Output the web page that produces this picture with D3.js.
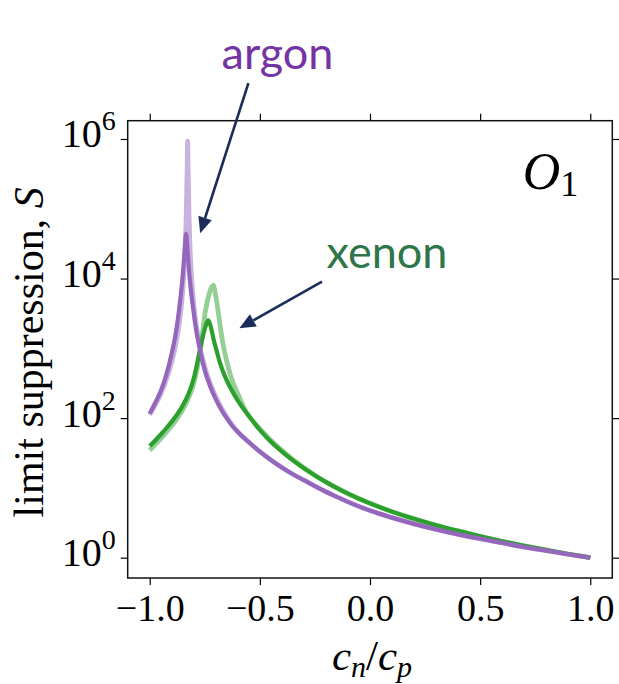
<!DOCTYPE html>
<html>
<head>
<meta charset="utf-8">
<script src="https://cdn.jsdelivr.net/npm/d3@7"></script>
<style>
  body { margin: 0; background: #fff; }
  svg { display: block; }
</style>
</head>
<body>
<svg id="chart" width="619" height="684"></svg>
<script>
// ---- data: limit suppression S versus the coupling ratio c_n/c_p ----
// argon, smeared response
const argonR = [-1.000, -0.975, -0.950, -0.925, -0.900, -0.880, -0.865, -0.850, -0.842, -0.835, -0.828, -0.820, -0.805, -0.790, -0.770, -0.750, -0.725, -0.700, -0.675, -0.650, -0.625, -0.600, -0.575, -0.550, -0.500, -0.450, -0.400, -0.350, -0.300, -0.250, -0.200, -0.150, -0.100, -0.050, 0.000, 0.100, 0.200, 0.300, 0.400, 0.500, 0.600, 0.700, 0.800, 0.900, 1.000];
const argonS = [116, 166, 245, 417, 851, 1780, 3980, 11200, 24000, 43600, 24000, 11200, 4170, 1900, 890, 480, 282, 186, 132, 99, 77, 63.1, 53.1, 45.2, 33.1, 25.1, 19.6, 15.7, 12.9, 10.6, 8.81, 7.45, 6.31, 5.43, 4.73, 3.75, 3.05, 2.54, 2.16, 1.87, 1.63, 1.42, 1.26, 1.12, 1.0];
// argon, sharp response
const argonSharpR = [-1.000, -0.975, -0.950, -0.925, -0.900, -0.880, -0.865, -0.850, -0.840, -0.834, -0.830, -0.828, -0.826, -0.822, -0.816, -0.806, -0.790, -0.770, -0.750, -0.725, -0.700, -0.675, -0.650, -0.625, -0.600, -0.575, -0.550, -0.500, -0.450, -0.400, -0.350, -0.300, -0.250, -0.200, -0.150, -0.100, -0.050, 0.000, 0.100, 0.200, 0.300, 0.400, 0.500, 0.600, 0.700, 0.800, 0.900, 1.000];
const argonSharpS = [112, 153, 222, 351, 638, 1220, 2420, 6830, 23000, 92000, 400000, 930000, 400000, 92000, 23000, 6830, 2290, 980, 543, 312, 202, 141, 104, 80, 63.5, 53.1, 45.2, 33.1, 25.1, 19.6, 15.7, 12.9, 10.6, 8.81, 7.45, 6.31, 5.43, 4.73, 3.75, 3.05, 2.54, 2.16, 1.87, 1.63, 1.42, 1.26, 1.12, 1.0];
// xenon, smeared response
const xenonR = [-1.000, -0.975, -0.950, -0.925, -0.900, -0.875, -0.850, -0.825, -0.800, -0.785, -0.772, -0.755, -0.745, -0.734, -0.722, -0.711, -0.695, -0.681, -0.660, -0.636, -0.600, -0.550, -0.500, -0.450, -0.400, -0.350, -0.300, -0.250, -0.200, -0.150, -0.100, -0.050, 0.000, 0.100, 0.200, 0.300, 0.400, 0.500, 0.600, 0.700, 0.800, 0.900, 1.000];
const xenonS = [39.8, 47.9, 58.2, 71.6, 89.1, 113.5, 151, 219, 372, 603, 955, 1660, 2140, 2510, 2000, 1380, 891, 617, 407, 282, 178, 107, 67.6, 45.7, 33.1, 24.8, 19.1, 15.1, 12.1, 9.91, 8.26, 7.0, 6.01, 4.57, 3.61, 2.92, 2.42, 2.03, 1.72, 1.48, 1.29, 1.13, 1.0];
// xenon, sharp response
const xenonSharpR = [-1.000, -0.975, -0.950, -0.925, -0.900, -0.875, -0.850, -0.825, -0.800, -0.785, -0.772, -0.760, -0.749, -0.738, -0.725, -0.712, -0.700, -0.688, -0.677, -0.665, -0.645, -0.627, -0.600, -0.575, -0.559, -0.525, -0.500, -0.450, -0.400, -0.350, -0.300, -0.250, -0.200, -0.150, -0.100, -0.050, 0.000, 0.100, 0.200, 0.300, 0.400, 0.500, 0.600, 0.700, 0.800, 0.900, 1.000];
const xenonSharpS = [34.7, 41.7, 50.7, 62.4, 77.6, 98.9, 132, 191, 316, 501, 871, 1660, 3160, 4790, 6760, 8040, 5620, 3160, 1780, 1050, 562, 355, 224, 148, 119, 86.1, 70.0, 48.4, 34.7, 25.4, 19.4, 15.2, 12.2, 9.98, 8.3, 7.01, 6.01, 4.57, 3.61, 2.92, 2.42, 2.03, 1.72, 1.48, 1.29, 1.13, 1.0];

// axis ticks
const xTicks = [-1.0, -0.5, 0.0, 0.5, 1.0];
const yTickExp = [0, 2, 4, 6];

// target labels with arrows, positioned in data coordinates
const labelNames = ["argon", "xenon"];
const labelAt = [[-0.42, 1.02e7], [0.077, 14000]];
const arrowTail = [[-0.552, 6.3e6], [-0.218, 9020]];
const arrowTip = [[-0.771, 44600], [-0.593, 1940]];
const labelColors = ["#7434a4", "#2e7649"];

// ---- layout ----
const box = { left: 127.7, right: 612.3, top: 120.7, bottom: 578 };
const svg = d3.select("#chart");

const x = d3.scaleLinear().domain([-1.1, 1.1]).range([box.left, box.right]);
const y = d3.scaleLog().domain([Math.pow(10, -0.291), Math.pow(10, 6.262)]).range([box.bottom, box.top]);

const serif = "'Liberation Serif', 'DejaVu Serif', serif";
const tickFont = 38;

// ---- curves ----
const line = d3.line()
  .x(d => x(d[0]))
  .y(d => y(d[1]))
  .curve(d3.curveMonotoneX);

const series = [
  { r: xenonSharpR, s: xenonSharpS, color: "#2ca02c", opacity: 0.5, width: 4.8 },
  { r: xenonR, s: xenonS, color: "#2ca02c", opacity: 1, width: 4.2 },
  { r: argonSharpR, s: argonSharpS, color: "#9467bd", opacity: 0.5, width: 4.8 },
  { r: argonR, s: argonS, color: "#9467bd", opacity: 1, width: 4.2 }
];

svg.append("defs").append("clipPath").attr("id", "plotclip")
  .append("rect")
  .attr("x", box.left).attr("y", box.top)
  .attr("width", box.right - box.left).attr("height", box.bottom - box.top);

const plot = svg.append("g").attr("clip-path", "url(#plotclip)");
series.forEach(sr => {
  plot.append("path")
    .datum(sr.r.map((r, i) => [r, sr.s[i]]))
    .attr("d", line)
    .attr("fill", "none")
    .attr("stroke", sr.color)
    .attr("stroke-opacity", sr.opacity)
    .attr("stroke-width", sr.width)
    .attr("stroke-linejoin", "round")
    .attr("stroke-linecap", "butt");
});

// ---- axes ----
const fmt = d3.format(".1f");
const gx = svg.append("g")
  .attr("transform", `translate(0,${box.bottom})`)
  .call(d3.axisBottom(x).tickValues(xTicks).tickSize(7).tickSizeOuter(0).tickFormat(fmt));
gx.selectAll("text").attr("font-family", serif).attr("font-size", tickFont).attr("fill", "#000")
  .attr("dy", null).attr("y", 43);

svg.append("g")
  .attr("transform", `translate(0,${box.top})`)
  .call(d3.axisTop(x).tickValues(xTicks).tickSize(7).tickSizeOuter(0).tickFormat(""));

const yVals = yTickExp.map(e => Math.pow(10, e));
const gy = svg.append("g")
  .attr("transform", `translate(${box.left},0)`)
  .call(d3.axisLeft(y).tickValues(yVals).tickSize(7).tickSizeOuter(0).tickFormat(""));
gy.selectAll(".tick").each(function (d, i) {
  const t = d3.select(this).append("text")
    .attr("x", -12).attr("y", 8)
    .attr("text-anchor", "end")
    .attr("font-family", serif).attr("font-size", 40).attr("fill", "#000");
  t.append("tspan").text("10");
  t.append("tspan").attr("dy", -17).attr("font-size", 28).text(yTickExp[i]);
});

svg.append("g")
  .attr("transform", `translate(${box.right},0)`)
  .call(d3.axisRight(y).tickValues(yVals).tickSize(7).tickSizeOuter(0).tickFormat(""));

svg.selectAll(".domain").remove();
svg.selectAll(".tick line").attr("stroke", "#000").attr("stroke-width", 1.2);

// frame
svg.append("rect")
  .attr("x", box.left).attr("y", box.top)
  .attr("width", box.right - box.left).attr("height", box.bottom - box.top)
  .attr("fill", "none").attr("stroke", "#111").attr("stroke-width", 1.5);

// ---- axis titles ----
const xt = svg.append("text")
  .attr("x", (box.left + box.right) / 2 + 2).attr("y", 670)
  .attr("text-anchor", "middle")
  .attr("font-family", serif).attr("font-size", 43).attr("font-style", "italic").attr("fill", "#000");
xt.append("tspan").text("c");
xt.append("tspan").attr("font-size", 30).attr("dy", 7).text("n");
xt.append("tspan").attr("dy", -7).attr("font-style", "normal").text("/");
xt.append("tspan").text("c");
xt.append("tspan").attr("font-size", 30).attr("dy", 7).text("p");

const yt = svg.append("text")
  .attr("transform", `translate(43,${(box.top + box.bottom) / 2 + 3}) rotate(-90)`)
  .attr("text-anchor", "middle")
  .attr("font-family", serif).attr("font-size", 42).attr("fill", "#000");
yt.append("tspan").text("limit suppression, ");
yt.append("tspan").attr("font-style", "italic").text("S");

// operator tag
const op = svg.append("text")
  .attr("x", box.left + 0.815 * (box.right - box.left)).attr("y", 189)
  .attr("font-family", serif).attr("font-size", 52).attr("fill", "#000");
op.append("tspan").attr("font-style", "italic").text("O");
op.append("tspan").attr("font-size", 36).attr("dy", 7).text("1");

// ---- target labels and arrows ----
const navy = "#1b2d58";
labelNames.forEach((name, i) => {
  const [tx, ty] = [x(arrowTail[i][0]), y(arrowTail[i][1])];
  const [hx, hy] = [x(arrowTip[i][0]), y(arrowTip[i][1])];
  const ang = Math.atan2(hy - ty, hx - tx);
  const headLen = 16, headHalf = 7;
  const bx = hx - headLen * Math.cos(ang), by = hy - headLen * Math.sin(ang);
  svg.append("line")
    .attr("x1", tx).attr("y1", ty).attr("x2", bx).attr("y2", by)
    .attr("stroke", navy).attr("stroke-width", 2.6);
  const px = -Math.sin(ang), py = Math.cos(ang);
  svg.append("polygon")
    .attr("points", [[hx, hy], [bx + headHalf * px, by + headHalf * py], [bx - headHalf * px, by - headHalf * py]].map(p => p.join(",")).join(" "))
    .attr("fill", navy);
  svg.append("text")
    .attr("x", x(labelAt[i][0])).attr("y", y(labelAt[i][1]))
    .attr("text-anchor", "middle")
    .attr("font-family", "Lato, 'Open Sans', sans-serif").attr("font-size", 45)
    .attr("fill", labelColors[i])
    .text(name);
});
</script>
</body>
</html>
